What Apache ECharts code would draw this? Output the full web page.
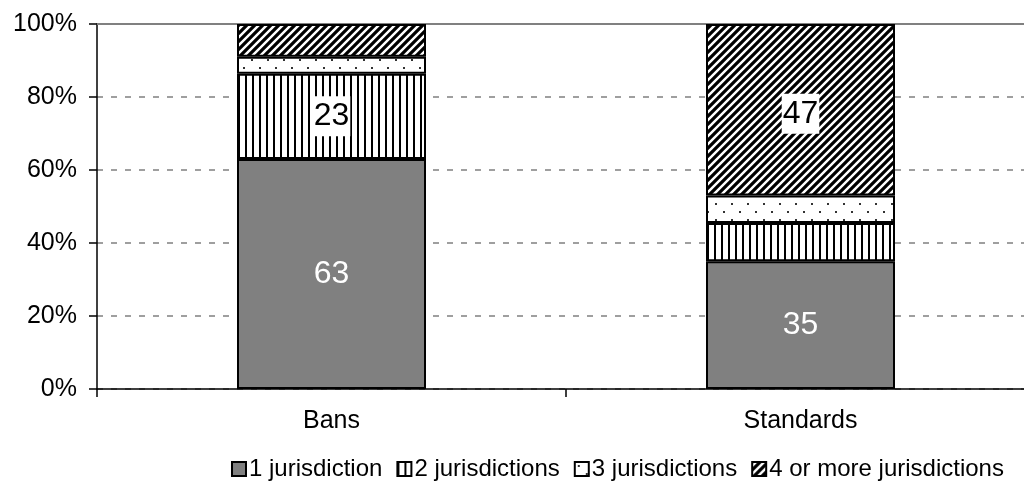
<!DOCTYPE html>
<html>
<head>
<meta charset="utf-8">
<script src="https://cdn.jsdelivr.net/npm/echarts@6/dist/echarts.min.js"></script>
<style>
html,body{margin:0;padding:0;background:#fff;}
#main{width:1024px;height:481px;}
</style>
</head>
<body>
<div id="main"></div>
<script>
const categories = ['Bans', 'Standards'];
const oneJurisdiction = [63, 35];
const twoJurisdictions = [23.4, 10.5];
const threeJurisdictions = [4.6, 7.5];
const fourOrMore = [9, 47];
const yTicks = [0, 20, 40, 60, 80, 100];
const showOne = [true, true];
const showTwo = [true, false];
const showThree = [false, false];
const showFour = [false, true];

function makeCanvas(w, h, draw) {
  const c = document.createElement('canvas');
  c.width = w; c.height = h;
  const ctx = c.getContext('2d');
  ctx.fillStyle = '#fff';
  ctx.fillRect(0, 0, w, h);
  draw(ctx);
  return c;
}
const vertPattern = makeCanvas(7, 7, ctx => {
  ctx.fillStyle = '#000';
  ctx.fillRect(0, 0, 2, 7);
});
const dotPattern = makeCanvas(16, 16, ctx => {
  ctx.fillStyle = '#333';
  ctx.fillRect(3, 3, 2, 2);
  ctx.fillRect(11, 11, 2, 2);
});
const diagPattern = makeCanvas(8, 8, ctx => {
  ctx.strokeStyle = '#000';
  ctx.lineWidth = 3.2;
  ctx.beginPath();
  ctx.moveTo(-2, 10); ctx.lineTo(10, -2);
  ctx.moveTo(-6, 6); ctx.lineTo(6, -6);
  ctx.moveTo(2, 14); ctx.lineTo(14, 2);
  ctx.stroke();
});

const font = "'Liberation Sans', Arial, sans-serif";

function mkData(values, flags) {
  return values.map((v, i) => ({ value: v, label: { show: flags[i] } }));
}

const barBorder = { borderColor: '#000', borderWidth: 2 };

const chart = echarts.init(document.getElementById('main'), null, { renderer: 'canvas' });
chart.setOption({
  animation: false,
  textStyle: { fontFamily: font },
  grid: { left: 97, width: 938, top: 24, bottom: 92, outerBoundsMode: 'none', containLabel: false },
  legend: {
    top: 452, left: 226, width: 900,
    icon: 'rect',
    itemWidth: 14, itemHeight: 14, itemGap: 14,
    textStyle: { fontSize: 24, color: '#000', fontFamily: font, padding: [0, 0, 0, -2] },
    data: ['1 jurisdiction', '2 jurisdictions', '3 jurisdictions', '4 or more jurisdictions']
  },
  xAxis: [{
    type: 'category',
    data: categories,
    axisLine: { lineStyle: { color: '#000', width: 1.5 } },
    axisTick: { show: true, length: 8, lineStyle: { color: '#000', width: 1.5 } },
    axisLabel: { fontSize: 25, color: '#000', margin: 20, fontFamily: font },
    splitLine: { show: false }
  }, {
    type: 'category',
    position: 'top',
    data: categories,
    axisLine: { lineStyle: { color: '#808080', width: 2 } },
    axisTick: { show: false },
    axisLabel: { show: false }
  }],
  yAxis: {
    type: 'value',
    min: 0, max: 100, interval: 20,
    axisLine: { show: true, lineStyle: { color: '#000', width: 1.5 } },
    axisTick: { show: true, length: 8, lineStyle: { color: '#000', width: 1.5 } },
    axisLabel: { fontSize: 25, color: '#000', margin: 20, formatter: v => v + '%', fontFamily: font },
    splitLine: { show: true, lineStyle: { color: '#808080', width: 1.5, type: [6, 8] } }
  },
  series: [{
    name: '1 jurisdiction', type: 'bar', stack: 'total', barWidth: 189,
    data: mkData(oneJurisdiction, showOne),
    itemStyle: Object.assign({ color: '#808080' }, barBorder),
    label: { position: 'inside', color: '#fff', fontSize: 32, fontFamily: font }
  }, {
    name: '2 jurisdictions', type: 'bar', stack: 'total',
    data: mkData(twoJurisdictions, showTwo),
    itemStyle: Object.assign({ color: { image: vertPattern, repeat: 'repeat' } }, barBorder),
    label: { position: 'inside', color: '#000', fontSize: 32, fontFamily: font, backgroundColor: '#fff', padding: [5, 1, 3, 1], formatter: p => Math.round(p.value) }
  }, {
    name: '3 jurisdictions', type: 'bar', stack: 'total',
    data: mkData(threeJurisdictions, showThree),
    itemStyle: Object.assign({ color: { image: dotPattern, repeat: 'repeat' } }, barBorder),
    label: { position: 'inside', color: '#000', fontSize: 32, fontFamily: font, backgroundColor: '#fff' }
  }, {
    name: '4 or more jurisdictions', type: 'bar', stack: 'total',
    data: mkData(fourOrMore, showFour),
    itemStyle: Object.assign({ color: { image: diagPattern, repeat: 'repeat' } }, barBorder),
    label: { position: 'inside', color: '#000', fontSize: 32, fontFamily: font, backgroundColor: '#fff', padding: [5, 1, 3, 1], offset: [0, 4] }
  }]
});
</script>
</body>
</html>
